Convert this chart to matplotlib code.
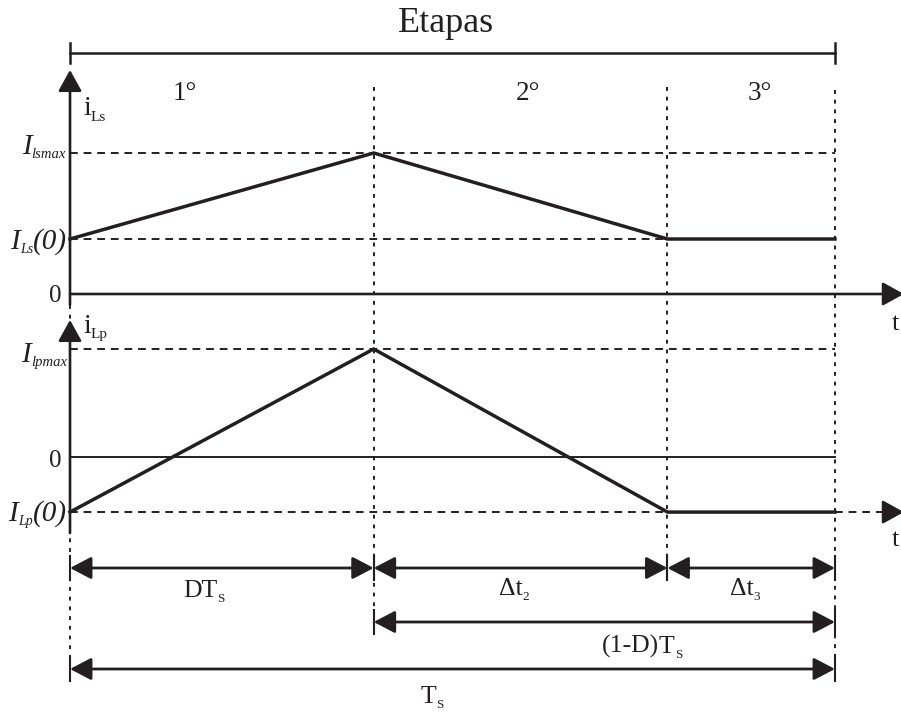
import matplotlib.pyplot as plt
import matplotlib.transforms as mtransforms

plt.rcParams['font.family'] = 'Liberation Serif'

INK = '#231f20'
W, H = 901, 713

# switching instants (fraction of Ts) and inductor currents at those instants
t_edges = [0.0, 0.397, 0.781, 1.0]
i_ls = [0.39, 1.0, 0.39, 0.39]      # normalised to I_lsmax
i_lp = [-0.51, 1.0, -0.51, -0.51]   # normalised to I_lpmax
stage_names = ['1°', '2°', '3°']

fig = plt.figure(figsize=(W / 100, H / 100), dpi=100)
ax_up = fig.add_axes([70 / W, 1 - 294 / H, 765 / W, 141 / H])
ax_lo = fig.add_axes([70 / W, 1 - 457 / H, 765 / W, 108 / H])
for ax in (ax_up, ax_lo):
    ax.set_xlim(0, 1)
    ax.set_ylim(0, 1)
    ax.axis('off')

# x follows the time axis, y is given in figure pixels
bt = mtransforms.blended_transform_factory(ax_up.transData, fig.transFigure)


def fy(px):
    return 1 - px / H


def arrow(ax, start, tip, coords, lw=1.9, style='-|>', hl=13, hw=7.2):
    ax.annotate('', xy=tip, xycoords=coords, xytext=start, textcoords=coords,
                annotation_clip=False,
                arrowprops=dict(arrowstyle=f'{style},head_length={hl},head_width={hw}',
                                mutation_scale=1, lw=lw, color=INK,
                                shrinkA=0, shrinkB=0))


def label(x_px, y_px, runs, ha='left'):
    # runs: (text, size, drop in px, italic) set one after another on a baseline
    r = fig.canvas.get_renderer()
    parts = []
    for s, size, drop, it in runs:
        t = fig.text(0, 0, s, fontsize=size, color=INK, va='baseline', ha='left',
                     style='italic' if it else 'normal')
        parts.append((t, t.get_window_extent(r).width, drop))
    total = sum(p[1] for p in parts)
    x = x_px - {'left': 0, 'center': total / 2, 'right': total}[ha]
    for t, w, drop in parts:
        t.set_position((x / W, fy(y_px + drop)))
        x += w


dash = dict(color=INK, lw=1.4, dashes=(4, 3), clip_on=False)
dot = dict(color=INK, lw=1.4, dashes=(2, 3), clip_on=False, transform=bt)

# vertical guides at the switching instants
ax_up.plot([t_edges[0]] * 2, [fy(305), fy(680)], **dot)
ax_up.plot([t_edges[1]] * 2, [fy(87), fy(630)], **dot)
ax_up.plot([t_edges[2]] * 2, [fy(87), fy(580)], **dot)
ax_up.plot([t_edges[3]] * 2, [fy(90), fy(680)], **dot)

# stages bar
ax_up.plot([t_edges[0], t_edges[-1]], [fy(53)] * 2, color=INK, lw=1.8,
           transform=bt, clip_on=False)
for t in (t_edges[0], t_edges[-1]):
    ax_up.plot([t, t], [fy(43), fy(63)], color=INK, lw=1.8, transform=bt, clip_on=False)
fig.text(446 / W, fy(32), 'Etapas', fontsize=26, color=INK, ha='center', va='baseline')
for name, xc in zip(stage_names, [185, 528, 760]):
    fig.text(xc / W, fy(100), name, fontsize=19.5, color=INK, ha='center', va='baseline')

# upper panel: i_Ls
ax_up.plot([t_edges[0], t_edges[-1]], [i_ls[1]] * 2, **dash)
ax_up.plot([t_edges[0], t_edges[2]], [i_ls[0]] * 2, **dash)
arrow(ax_up, (0, 0), (1.09, 0), 'data')
arrow(ax_up, (0, -0.078), (0, 1.589), 'data')
ax_up.plot(t_edges, i_ls, color=INK, lw=2.5, solid_joinstyle='miter', clip_on=False)

# lower panel: i_Lp
ax_lo.plot([t_edges[0], t_edges[-1]], [i_lp[1]] * 2, **dash)
ax_lo.plot([t_edges[0], t_edges[2]], [i_lp[0]] * 2, **dash)
ax_lo.plot([t_edges[-1], 1.07], [i_lp[0]] * 2, **dash)
arrow(ax_lo, (1.065, i_lp[0]), (1.09, i_lp[0]), 'data')
ax_lo.plot([t_edges[0], t_edges[-1]], [0, 0], color=INK, lw=1.4, clip_on=False)
arrow(ax_lo, (0, -0.704), (0, 1.269), 'data')
ax_lo.plot(t_edges, i_lp, color=INK, lw=2.5, solid_joinstyle='miter', clip_on=False)

# time intervals
spans = [(t_edges[0], t_edges[1], 568), (t_edges[1], t_edges[2], 568),
         (t_edges[2], t_edges[3], 568), (t_edges[1], t_edges[3], 622),
         (t_edges[0], t_edges[3], 669)]
for a, b, row in spans:
    arrow(ax_up, (a, fy(row)), (b, fy(row)), bt, lw=2.0, style='<|-|>', hl=13, hw=6.8)
    for t in (a, b):
        ax_up.plot([t, t], [fy(row - 12), fy(row + 12)], color=INK, lw=1.5,
                   transform=bt, clip_on=False)

# axis labels
label(83, 115, [('i', 20, 0, False), ('Ls', 11, 6, False)])
label(83, 333, [('i', 20, 0, False), ('Lp', 11, 5, False)])
label(66, 154, [('I', 21, 0, True), ('lsmax', 10.5, 4, True)], ha='right')
label(67, 249, [('I', 21, 0, True), ('Ls', 10, 4, True), ('(0)', 21, 0, True)], ha='right')
label(62, 302, [('0', 18, 0, False)], ha='right')
label(67, 362, [('I', 21, 0, True), ('lpmax', 10.5, 4, True)], ha='right')
label(62, 467, [('0', 18, 0, False)], ha='right')
label(67, 521, [('I', 21, 0, True), ('Lp', 10, 4, True), ('(0)', 21, 0, True)], ha='right')
label(892, 330, [('t', 19, 0, False)])
label(892, 546, [('t', 19, 0, False)])

# interval labels
label(204, 597, [('DT', 18.5, 0, False), ('S', 9.5, 5, False)], ha='center')
label(514, 595, [('Δt', 18.5, 0, False), ('2', 9.5, 5, False)], ha='center')
label(745, 595, [('Δt', 18.5, 0, False), ('3', 9.5, 5, False)], ha='center')
label(642, 653, [('(1-D)', 18.5, 0, False), ('T', 18.5, 0, False),
                 ('S', 9.5, 5, False)], ha='center')
label(432, 703, [('T', 18.5, 0, False), ('S', 9.5, 5, False)], ha='center')

fig.savefig('out.png', dpi=100)
